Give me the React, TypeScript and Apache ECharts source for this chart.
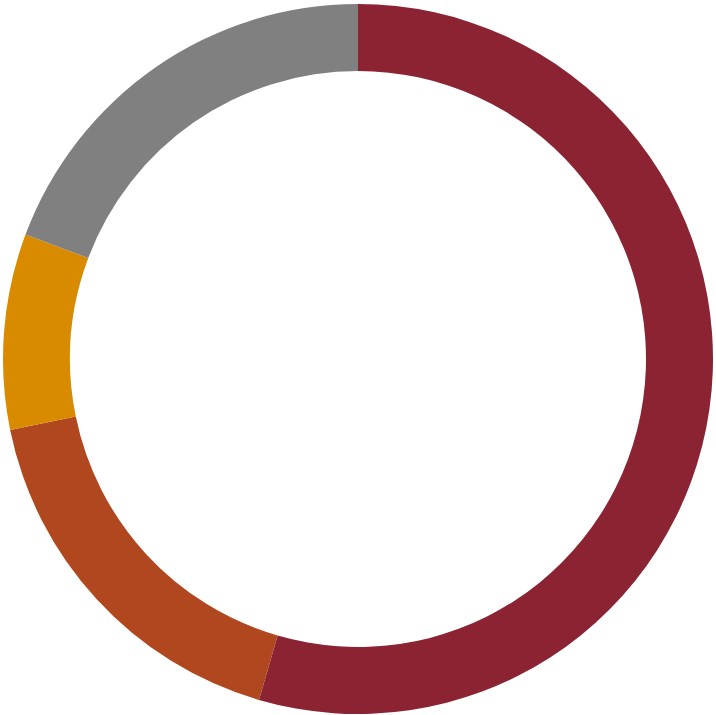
import * as echarts from "echarts";
import React, { useEffect, useRef } from "react";

const categories = ["A", "B", "C", "D"];
const values = [54.5, 17.3, 8.9, 19.3];
const colors = ["#8B2332", "#B0471E", "#D98B00", "#808080"];

export default function App() {
  const chartRef = useRef<HTMLDivElement>(null);

  useEffect(() => {
    if (!chartRef.current) return;
    const chart = echarts.init(chartRef.current, undefined, { renderer: "svg" });
    chart.setOption({
      animation: false,
      series: [
        {
          type: "pie",
          center: [358, 359],
          radius: [288, 355],
          startAngle: 90,
          clockwise: true,
          label: { show: false },
          labelLine: { show: false },
          emphasis: { disabled: true },
          itemStyle: { borderWidth: 0 },
          data: categories.map((name, i) => ({
            name,
            value: values[i],
            itemStyle: { color: colors[i] },
          })),
        },
      ],
    });
    return () => chart.dispose();
  }, []);

  return (
    <div
      ref={chartRef}
      style={{ position: "absolute", left: 0, top: 0, width: 716, height: 715, background: "#fff" }}
    />
  );
}
